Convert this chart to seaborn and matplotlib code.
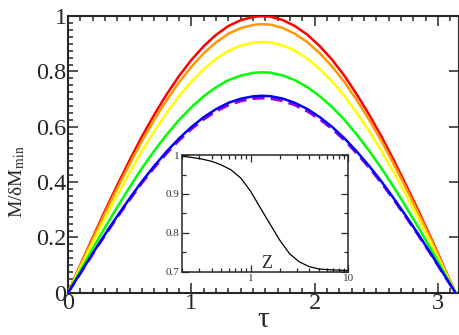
import numpy as np
import pandas as pd
import matplotlib
matplotlib.use("Agg")
import matplotlib.pyplot as plt
import matplotlib.ticker as mticker
import seaborn as sns

# main panel: tau grid and the profile of the top (red) curve
tau = [0.0, 0.1, 0.2, 0.3, 0.4, 0.5, 0.6, 0.7, 0.8, 0.9, 1.0, 1.1, 1.2, 1.3, 1.4, 1.5,
       1.57, 1.64, 1.74, 1.84, 1.94, 2.04, 2.14, 2.24, 2.34, 2.44, 2.54, 2.64, 2.74,
       2.84, 2.94, 3.04, 3.1416]
red = [0.0, 0.1, 0.199, 0.296, 0.389, 0.479, 0.565, 0.644, 0.717, 0.783, 0.841, 0.891,
       0.932, 0.964, 0.985, 0.997, 1.0, 0.998, 0.986, 0.964, 0.933, 0.892, 0.843, 0.785,
       0.718, 0.645, 0.566, 0.48, 0.39, 0.297, 0.201, 0.101, 0.0]
peaks = [1.0, 0.971, 0.907, 0.797, 0.712, 0.704]
names = ["red", "orange", "yellow", "green", "blue", "violet"]
colors = ["#ff0000", "#ff9900", "#ffff00", "#00ff00", "#0000ff", "#9900dd"]

# inset: M(z)
z = [0.2, 0.25, 0.316, 0.4, 0.5, 0.631, 0.794, 1.0, 1.26, 1.585, 2.0, 2.51, 3.16,
     3.98, 5.01, 6.31, 7.94, 10.0]
mz = [0.997, 0.994, 0.990, 0.984, 0.975, 0.962, 0.941, 0.907, 0.864, 0.822, 0.780,
      0.746, 0.725, 0.713, 0.707, 0.705, 0.704, 0.703]

sns.set_style("ticks")
plt.rcParams["font.family"] = ["Liberation Serif", "DejaVu Serif"]
plt.rcParams["mathtext.fontset"] = "stix"

fig = plt.figure(figsize=(4.59, 3.35), dpi=100)
ax = fig.add_axes([0.148, 0.126, 0.852, 0.826])

rows = []
for name, amp in zip(names, peaks):
    for t, r in zip(tau, red):
        rows.append({"tau": t, "M": amp * r, "curve": name})
df = pd.DataFrame(rows)

# dashed violet goes underneath the blue one
order = ["violet", "red", "orange", "yellow", "green", "blue"]
for name in order:
    c = colors[names.index(name)]
    sub = df[df["curve"] == name]
    sns.lineplot(data=sub, x="tau", y="M", ax=ax, color=c, lw=2.2 if name == "violet" else 1.8,
                 linestyle=(0, (4, 2)) if name == "violet" else "-", sort=False,
                 zorder=2 if name == "violet" else 3)

ax.set_xlim(0, 3.17)
ax.set_ylim(0, 1)
ax.xaxis.set_major_locator(mticker.MultipleLocator(1))
ax.xaxis.set_minor_locator(mticker.MultipleLocator(0.1))
ax.yaxis.set_major_locator(mticker.MultipleLocator(0.2))
ax.yaxis.set_minor_locator(mticker.MultipleLocator(0.025))
ax.yaxis.set_major_formatter(mticker.FuncFormatter(lambda v, p: f"{v:g}"))
ax.tick_params(which="both", direction="in", top=True, right=True, labelsize=17.5, width=1.1)
ax.tick_params(which="major", length=7)
ax.tick_params(which="minor", length=3.5)
ax.tick_params(axis="y", which="minor", right=False)
ax.tick_params(axis="x", pad=0)
ax.tick_params(axis="y", pad=1)
for s in ax.spines.values():
    s.set_linewidth(1.5)
ax.set_xlabel("τ", fontsize=21)
ax.xaxis.set_label_coords(0.5, -0.125)
ax.xaxis.label.set_va("baseline")
ax.set_ylabel(r"M/δM$_{\rm min}$", fontsize=14)
ax.yaxis.set_label_coords(-0.105, 0.40)

ins = fig.add_axes([0.397, 0.189, 0.362, 0.348])
sns.lineplot(x=z, y=mz, ax=ins, color="black", lw=0.9)
ins.set_xscale("log")
ins.set_xlim(0.2, 10)
ins.set_ylim(0.7, 1.0)
ins.xaxis.set_major_locator(mticker.FixedLocator([1, 10]))
ins.xaxis.set_major_formatter(mticker.FixedFormatter(["1", "10"]))
ins.xaxis.set_minor_locator(mticker.LogLocator(base=10, subs=np.arange(2, 10)))
ins.xaxis.set_minor_formatter(mticker.NullFormatter())
ins.yaxis.set_major_locator(mticker.MultipleLocator(0.1))
ins.yaxis.set_minor_locator(mticker.MultipleLocator(0.05))
ins.yaxis.set_major_formatter(mticker.FuncFormatter(lambda v, p: f"{v:g}"))
ins.tick_params(which="both", direction="in", top=True, right=True, labelsize=8,
                labelcolor="#333333", width=0.9, pad=2)
ins.tick_params(which="major", length=5)
ins.tick_params(which="minor", length=3)
for s in ins.spines.values():
    s.set_linewidth(1.1)
ins.set_xlabel("")
ins.set_ylabel("")
ins.text(1.45, 0.722, "Z", fontsize=13, ha="center", va="center")

fig.savefig("out.png", dpi=100)
